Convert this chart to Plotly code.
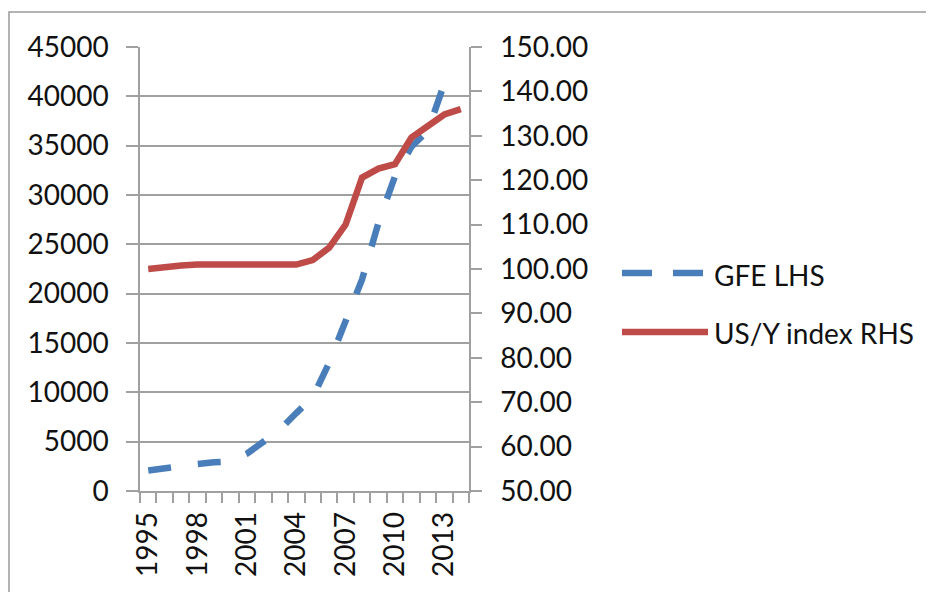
import plotly.graph_objects as go

years = list(range(1995, 2015))
gfe_lhs = [2080, 2350, 2580, 2740, 2910, 3000, 3780, 4900, 6200, 7900,
           9500, 13000, 17100, 21450, 27200, 31900, 34900, 36500, 41300, None]
usy_index_rhs = [100.0, 100.5, 100.8, 101.0, 101.0, 101.0, 101.0, 101.0, 101.0, 101.0,
                 102.0, 104.8, 110.0, 120.6, 122.6, 123.6, 129.6, 132.4, 134.8, 136.0]
x_tick_labels = [1995, 1998, 2001, 2004, 2007, 2010, 2013]
series_names = ["GFE LHS", "US/Y index RHS"]

BLUE = "#4A7EBB"
RED = "#BE4B48"
GRID = "#A0A0A0"
FONT = "Lato"

OFF = 8  # default page body margin
W, H = 934, 592
# plot area in page pixels
L, R, T, B = 140, 469, 47, 491


def px(x):
    return (x - L) / (R - L)


def py(y):
    return (B - y) / (B - T)


fig = go.Figure()
fig.add_trace(go.Scatter(x=years, y=gfe_lhs, mode="lines", name=series_names[0],
                         line=dict(color=BLUE, width=6.5, dash="23px,27px"),
                         connectgaps=False, showlegend=False))
fig.add_trace(go.Scatter(x=years, y=usy_index_rhs, mode="lines", name=series_names[1],
                         line=dict(color=RED, width=6.5), yaxis="y2", showlegend=False))

shapes = [
    # outer frame
    dict(type="rect", xref="paper", yref="paper", x0=px(9), x1=px(990), y0=py(650), y1=py(12),
         line=dict(color="#9A9A9A", width=1.5), fillcolor="rgba(0,0,0,0)", layer="below"),
    # legend symbols
    dict(type="line", xref="paper", yref="paper", x0=px(622), x1=px(652), y0=py(273), y1=py(273),
         line=dict(color=BLUE, width=6.5)),
    dict(type="line", xref="paper", yref="paper", x0=px(673), x1=px(703), y0=py(273), y1=py(273),
         line=dict(color=BLUE, width=6.5)),
    dict(type="line", xref="paper", yref="paper", x0=px(622), x1=px(708), y0=py(332), y1=py(332),
         line=dict(color=RED, width=6.5)),
]

annotations = [
    dict(text=series_names[0], xref="paper", yref="paper", x=px(712), y=py(275),
         xanchor="left", yanchor="middle", showarrow=False,
         font=dict(family=FONT, size=28, color="#111")),
    dict(text=series_names[1], xref="paper", yref="paper", x=px(712), y=py(333),
         xanchor="left", yanchor="middle", showarrow=False,
         font=dict(family=FONT, size=28, color="#111")),
]

fig.update_layout(
    width=W, height=H,
    margin=dict(l=L - OFF, r=W - (R - OFF), t=T - OFF, b=H - (B - OFF), autoexpand=False),
    paper_bgcolor="white", plot_bgcolor="white",
    font=dict(family=FONT, size=28, color="#111"),
    showlegend=False,
    shapes=shapes,
    annotations=annotations,
    xaxis=dict(
        range=[1994.5, 2014.5],
        tickmode="array", tickvals=x_tick_labels, ticktext=[str(v) for v in x_tick_labels],
        tickangle=-90, ticks="", ticklabelstandoff=8,
        showline=True, linecolor=GRID, linewidth=1.5,
        showgrid=False, zeroline=False,
        minor=dict(tickmode="linear", tick0=0.5, dtick=1, ticks="outside",
                   ticklen=10, tickcolor=GRID, tickwidth=1.5, showgrid=False),
    ),
    yaxis=dict(
        range=[0, 45000], tickmode="linear", tick0=0, dtick=5000, tickformat="d",
        ticks="outside", ticklen=12, tickcolor=GRID, tickwidth=1.5,
        showline=True, linecolor=GRID, linewidth=1.5,
        showgrid=True, gridcolor=GRID, gridwidth=1.5,
        zeroline=False, ticklabelstandoff=12,
    ),
    yaxis2=dict(
        range=[50, 150], tickmode="linear", tick0=50, dtick=10, tickformat=".2f",
        overlaying="y", side="right",
        ticks="outside", ticklen=11, tickcolor=GRID, tickwidth=1.5,
        showline=True, linecolor=GRID, linewidth=1.5,
        showgrid=False, zeroline=False, ticklabelstandoff=13,
    ),
)

fig.write_html("out.html")
